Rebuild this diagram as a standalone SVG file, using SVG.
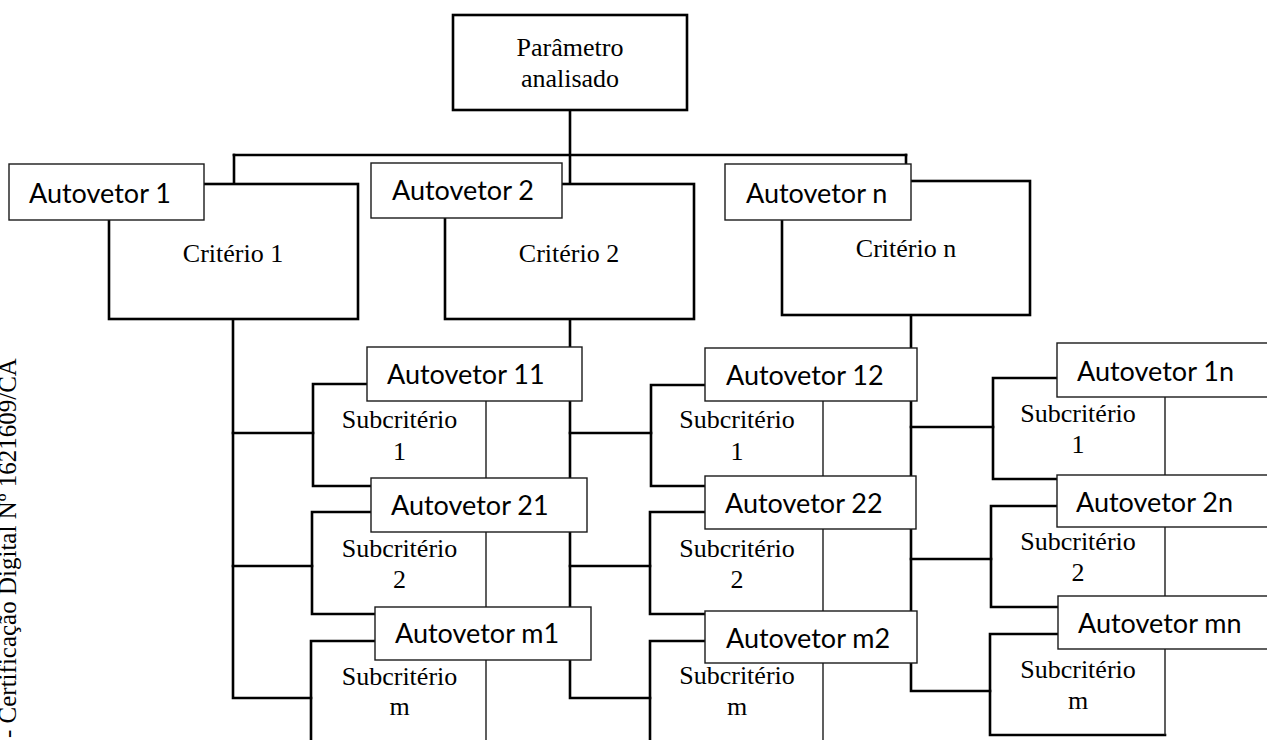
<svg xmlns="http://www.w3.org/2000/svg" width="1267" height="740" viewBox="0 0 1267 740">
  <style>
    .bg { fill: #ffffff; }
    .thick { fill: none; stroke: #000; stroke-width: 2.6; stroke-linejoin: miter; stroke-linecap: square; }
    .thin { fill: none; stroke: #1a1a1a; stroke-width: 1.4; }
    .box { fill: #ffffff; stroke: #000; stroke-width: 2.6; }
    .vec { fill: #ffffff; stroke: #1a1a1a; stroke-width: 1.4; }
    .serif { font-family: "Liberation Serif", "Times New Roman", serif; font-size: 26px; fill: #000; text-anchor: middle; }
    .sans { font-family: Lato, "Open Sans", sans-serif; font-size: 27px; fill: #000; }
    .side { font-family: "Liberation Serif", "Times New Roman", serif; font-size: 25px; fill: #000; }
  </style>

  <rect class="bg" x="0" y="0" width="1267" height="740"/>

  <!-- side watermark -->
  <text class="side" transform="translate(16,738) rotate(-90)">- Certificação Digital Nº 1621609/CA</text>

  <!-- connectors -->
  <g id="connectors" class="thick">
    <path d="M570 110 V184"/>
    <path d="M234 155 H906"/>
    <path d="M234 155 V184"/>
    <path d="M906 155 V164"/>
    <!-- criterion 1 trunk -->
    <path d="M233 319 V698 H311"/>
    <path d="M233 433 H313"/>
    <path d="M233 566 H312"/>
    <!-- criterion 2 trunk -->
    <path d="M570 319 V698 H650"/>
    <path d="M570 433 H651"/>
    <path d="M570 566 H650"/>
    <!-- criterion n trunk -->
    <path d="M911 315 V691 H990"/>
    <path d="M911 427 H993"/>
    <path d="M911 559 H991"/>
  </g>

  <!-- root -->
  <g id="root">
    <rect class="box" x="453" y="15" width="234" height="95"/>
    <text class="serif" x="570" y="56">Parâmetro</text>
    <text class="serif" x="570" y="87">analisado</text>
  </g>

  <!-- criteria -->
  <g id="criterio-1">
    <rect class="box" x="109" y="184" width="249" height="135"/>
    <text class="serif" x="233" y="262">Critério 1</text>
  </g>
  <g id="criterio-2">
    <rect class="box" x="445" y="184" width="249" height="135"/>
    <text class="serif" x="569" y="262">Critério 2</text>
  </g>
  <g id="criterio-n">
    <rect class="box" x="782" y="181" width="248" height="134"/>
    <text class="serif" x="906" y="257">Critério n</text>
  </g>

  <g id="autovetor-1">
    <rect class="vec" x="9" y="164" width="195" height="56"/>
    <text class="sans" x="29" y="203">Autovetor 1</text>
  </g>
  <g id="autovetor-2">
    <rect class="vec" x="371" y="163" width="191" height="55"/>
    <text class="sans" x="392" y="200">Autovetor 2</text>
  </g>
  <g id="autovetor-n">
    <rect class="vec" x="725" y="164" width="186" height="56"/>
    <text class="sans" x="746" y="203">Autovetor n</text>
  </g>

  <!-- sub-criteria, column 1 -->
  <g id="sub-11">
    <path class="thick" d="M486 384 H313 V486 H486"/>
    <path class="thin" d="M486 384 V486"/>
    <text class="serif" x="399.5" y="428">Subcritério</text>
    <text class="serif" x="399.5" y="460">1</text>
  </g>
  <g id="sub-21">
    <path class="thick" d="M486 512 H312 V614 H486"/>
    <path class="thin" d="M486 512 V614"/>
    <text class="serif" x="399.5" y="557">Subcritério</text>
    <text class="serif" x="399.5" y="588">2</text>
  </g>
  <g id="sub-m1">
    <path class="thick" d="M486 641 H311 V745"/>
    <path class="thin" d="M486 641 V745"/>
    <text class="serif" x="399.5" y="685">Subcritério</text>
    <text class="serif" x="399.5" y="715">m</text>
  </g>

  <!-- sub-criteria, column 2 -->
  <g id="sub-12">
    <path class="thick" d="M823 385 H651 V486 H823"/>
    <path class="thin" d="M823 385 V486"/>
    <text class="serif" x="737" y="428">Subcritério</text>
    <text class="serif" x="737" y="460">1</text>
  </g>
  <g id="sub-22">
    <path class="thick" d="M823 512 H650 V614 H823"/>
    <path class="thin" d="M823 512 V614"/>
    <text class="serif" x="737" y="557">Subcritério</text>
    <text class="serif" x="737" y="588">2</text>
  </g>
  <g id="sub-m2">
    <path class="thick" d="M823 641 H650 V745"/>
    <path class="thin" d="M823 641 V745"/>
    <text class="serif" x="737" y="684">Subcritério</text>
    <text class="serif" x="737" y="715">m</text>
  </g>

  <!-- sub-criteria, column n -->
  <g id="sub-1n">
    <path class="thick" d="M1165 378 H993 V479 H1165"/>
    <path class="thin" d="M1165 378 V479"/>
    <text class="serif" x="1078" y="422">Subcritério</text>
    <text class="serif" x="1078" y="453">1</text>
  </g>
  <g id="sub-2n">
    <path class="thick" d="M1165 506 H991 V607 H1165"/>
    <path class="thin" d="M1165 506 V607"/>
    <text class="serif" x="1078" y="550">Subcritério</text>
    <text class="serif" x="1078" y="581">2</text>
  </g>
  <g id="sub-mn">
    <path class="thick" d="M1165 634 H990 V735 H1165"/>
    <path class="thin" d="M1165 634 V735"/>
    <text class="serif" x="1078" y="678">Subcritério</text>
    <text class="serif" x="1078" y="709">m</text>
  </g>

  <!-- eigenvector labels, column 1 -->
  <g id="autovetor-11">
    <rect class="vec" x="367" y="347" width="215" height="54"/>
    <text class="sans" x="387" y="384">Autovetor 11</text>
  </g>
  <g id="autovetor-21">
    <rect class="vec" x="371" y="478" width="216" height="54"/>
    <text class="sans" x="391" y="515">Autovetor 21</text>
  </g>
  <g id="autovetor-m1">
    <rect class="vec" x="375" y="607" width="216" height="53"/>
    <text class="sans" x="395" y="643">Autovetor m1</text>
  </g>

  <!-- eigenvector labels, column 2 -->
  <g id="autovetor-12">
    <rect class="vec" x="705" y="348" width="212" height="53"/>
    <text class="sans" x="726" y="385">Autovetor 12</text>
  </g>
  <g id="autovetor-22">
    <rect class="vec" x="705" y="476" width="211" height="53"/>
    <text class="sans" x="725" y="513">Autovetor 22</text>
  </g>
  <g id="autovetor-m2">
    <rect class="vec" x="705" y="611" width="212" height="52"/>
    <text class="sans" x="726" y="648">Autovetor m2</text>
  </g>

  <!-- eigenvector labels, column n -->
  <g id="autovetor-1n">
    <rect class="vec" x="1057" y="343" width="215" height="54"/>
    <text class="sans" x="1077" y="381">Autovetor 1n</text>
  </g>
  <g id="autovetor-2n">
    <rect class="vec" x="1057" y="475" width="215" height="52"/>
    <text class="sans" x="1076" y="512">Autovetor 2n</text>
  </g>
  <g id="autovetor-mn">
    <rect class="vec" x="1058" y="596" width="214" height="53"/>
    <text class="sans" x="1078" y="633">Autovetor mn</text>
  </g>
</svg>
